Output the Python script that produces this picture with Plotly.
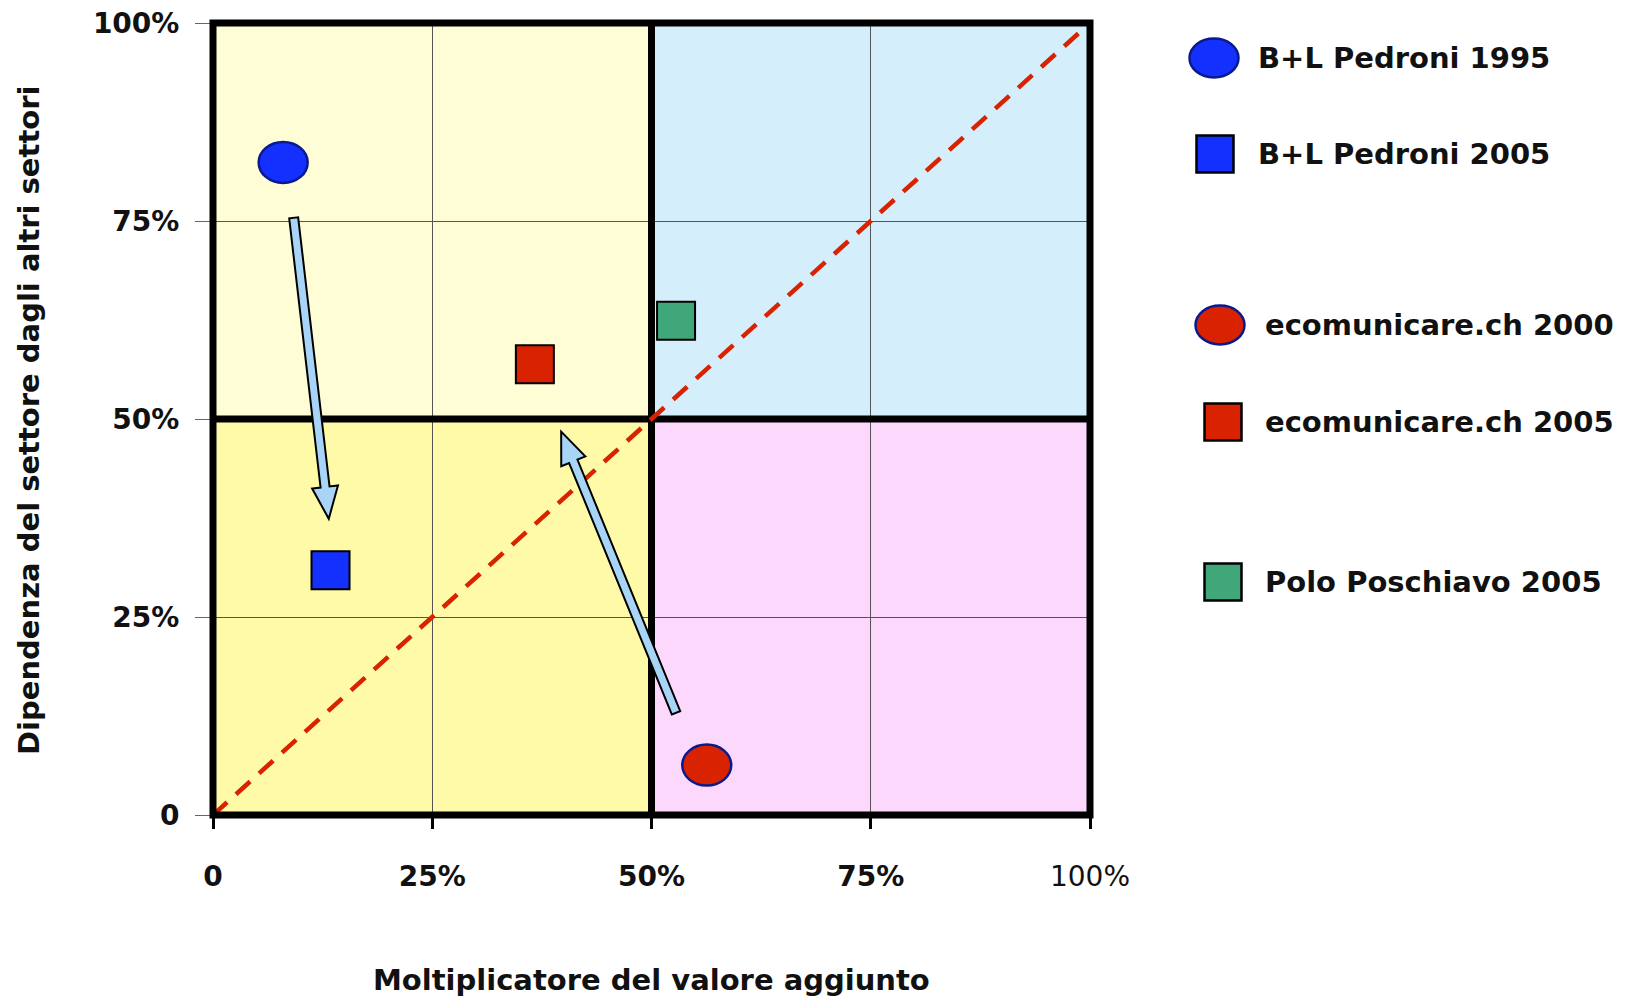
import math
import plotly.graph_objects as go

# ---------------- data ----------------
series_names = ["B+L Pedroni 1995", "B+L Pedroni 2005", "ecomunicare.ch 2000",
                "ecomunicare.ch 2005", "Polo Poschiavo 2005"]
x_values = [8.0, 13.4, 56.3, 36.7, 52.8]     # Moltiplicatore del valore aggiunto (%)
y_values = [82.4, 30.9, 6.3, 56.9, 62.4]      # Dipendenza del settore (%)
marker_kinds = ["ellipse", "square", "ellipse", "square", "square"]
fill_colors = ["#1430FF", "#1430FF", "#D82200", "#D82200", "#3FA77A"]

tick_vals = [0, 25, 50, 75, 100]
y_tick_text = ["0", "25%", "50%", "75%", "100%"]
x_tick_text = ["0", "25%", "50%", "75%", "100%"]

# movement arrows (from -> to), in data units
arrow_from_x = [9.2, 52.8]
arrow_from_y = [75.4, 12.9]
arrow_to_x = [13.2, 39.7]
arrow_to_y = [37.4, 48.4]

# ---------------- layout geometry ----------------
W, H = 1631, 998
L, R, T, B = 213, 1631 - 1090, 23, 998 - 815
PW, PH = W - L - R, H - T - B
SX, SY = PW / 100.0, PH / 100.0
FONT = "DejaVu Sans, Verdana, sans-serif"

fig = go.Figure()

shapes = []
# quadrant backgrounds
quads = [(0, 50, 50, 100, "#FFFDD6"), (0, 50, 0, 50, "#FFFAA8"),
         (50, 100, 50, 100, "#D5EEFC"), (50, 100, 0, 50, "#FCD8FC")]
for x0, x1, y0, y1, c in quads:
    shapes.append(dict(type="rect", xref="x", yref="y", x0=x0, x1=x1, y0=y0, y1=y1,
                       fillcolor=c, line=dict(width=0), layer="below"))
# thick cross
shapes.append(dict(type="line", xref="x", yref="y", x0=50, x1=50, y0=0, y1=100,
                   line=dict(color="black", width=7), layer="between"))
shapes.append(dict(type="line", xref="x", yref="y", x0=0, x1=100, y0=50, y1=50,
                   line=dict(color="black", width=7), layer="between"))
# thick frame (paper refs, top layer so it is not clipped)
shapes.append(dict(type="rect", xref="paper", yref="paper", x0=0, x1=1, y0=0, y1=1,
                   line=dict(color="black", width=7), layer="above"))


def block_arrow(x0, y0, x1, y1, w=4.5, h=13.0, hl=32.0):
    X0, Y0, X1, Y1 = x0 * SX, y0 * SY, x1 * SX, y1 * SY
    dx, dy = X1 - X0, Y1 - Y0
    ln = math.hypot(dx, dy)
    ux, uy = dx / ln, dy / ln
    nx, ny = -uy, ux
    nkx, nky = X1 - ux * hl, Y1 - uy * hl
    pts = [(X0 + nx * w, Y0 + ny * w), (nkx + nx * w, nky + ny * w),
           (nkx + nx * h, nky + ny * h), (X1, Y1),
           (nkx - nx * h, nky - ny * h), (nkx - nx * w, nky - ny * w),
           (X0 - nx * w, Y0 - ny * w)]
    return "M " + " L ".join(f"{px / SX:.4f},{py / SY:.4f}" for px, py in pts) + " Z"


for ax0, ay0, ax1, ay1 in zip(arrow_from_x, arrow_from_y, arrow_to_x, arrow_to_y):
    shapes.append(dict(type="path", xref="x", yref="y", path=block_arrow(ax0, ay0, ax1, ay1),
                       fillcolor="#A8D4F8", line=dict(color="black", width=2), layer="above"))

# diagonal reference line
fig.add_trace(go.Scatter(x=[0, 100], y=[0, 100], mode="lines", showlegend=False,
                         hoverinfo="skip",
                         line=dict(color="#D82200", width=4.5, dash="19px,12px")))

# data points: squares as markers, ellipses as pixel-sized shapes anchored at the data
for name, xv, yv, kind, col in zip(series_names, x_values, y_values, marker_kinds, fill_colors):
    if kind == "square":
        fig.add_trace(go.Scatter(x=[xv], y=[yv], mode="markers", name=name, showlegend=False,
                                 marker=dict(symbol="square", size=38, color=col,
                                             line=dict(color="black", width=2))))
    else:
        fig.add_trace(go.Scatter(x=[xv], y=[yv], mode="markers", name=name, showlegend=False,
                                 marker=dict(size=40, color="rgba(0,0,0,0)")))
        shapes.append(dict(type="circle", xref="x", yref="y", xsizemode="pixel",
                           ysizemode="pixel", xanchor=xv, yanchor=yv,
                           x0=-24.5, x1=24.5, y0=-20.5, y1=20.5,
                           fillcolor=col, line=dict(color="#0A1A8C", width=2.5),
                           layer="above"))

# custom legend (paper coordinates)
legend_px = [(1214, 58), (1215, 154), (1220, 325), (1223, 422), (1223, 582)]
legend_text_x = [1256, 1256, 1263, 1263, 1263]
annotations = []
for (px, py), tx, name, kind, col in zip(legend_px, legend_text_x, series_names,
                                         marker_kinds, fill_colors):
    pxp = (px - L) / PW
    pyp = (T + PH - py) / PH
    if kind == "ellipse":
        shapes.append(dict(type="circle", xref="paper", yref="paper", xsizemode="pixel",
                           ysizemode="pixel", xanchor=pxp, yanchor=pyp,
                           x0=-24.5, x1=24.5, y0=-19.5, y1=19.5,
                           fillcolor=col, line=dict(color="#0A1A8C", width=2.5)))
    else:
        shapes.append(dict(type="rect", xref="paper", yref="paper", xsizemode="pixel",
                           ysizemode="pixel", xanchor=pxp, yanchor=pyp,
                           x0=-18.5, x1=18.5, y0=-18.5, y1=18.5,
                           fillcolor=col, line=dict(color="black", width=2.5)))
    annotations.append(dict(xref="paper", yref="paper", x=(tx - L) / PW, y=pyp,
                            xanchor="left", yanchor="middle", showarrow=False,
                            text=f"<b>{name}</b>",
                            font=dict(family=FONT, size=29, color="#111111")))

# axis titles
annotations.append(dict(xref="paper", yref="paper", x=0.5, y=(T + PH - 980) / PH,
                        xanchor="center", yanchor="middle", showarrow=False,
                        text="<b>Moltiplicatore del valore aggiunto</b>",
                        font=dict(family=FONT, size=29, color="#111111")))
annotations.append(dict(xref="paper", yref="paper", x=(29 - L) / PW, y=(T + PH - 421) / PH,
                        xanchor="center", yanchor="middle", showarrow=False, textangle=-90,
                        text="<b>Dipendenza del settore dagli altri settori</b>",
                        font=dict(family=FONT, size=29, color="#111111")))

x_ticktext = [f"<b>{t}</b>" for t in x_tick_text[:-1]] + [x_tick_text[-1]]
y_ticktext = [f"<b>{t}</b>" for t in y_tick_text]

fig.update_layout(
    width=W, height=H,
    margin=dict(l=L, r=R, t=T, b=B, autoexpand=False),
    paper_bgcolor="white", plot_bgcolor="white",
    showlegend=False,
    shapes=shapes, annotations=annotations,
    font=dict(family=FONT, color="#111111"),
    xaxis=dict(range=[0, 100], tickvals=tick_vals, ticktext=x_ticktext,
               showgrid=True, gridcolor="#555555", gridwidth=1, zeroline=False,
               showline=False, ticks="outside", ticklen=13, tickwidth=3, tickcolor="black",
               ticklabelstandoff=23, tickfont=dict(family=FONT, size=28, color="#111111"),
               fixedrange=True),
    yaxis=dict(range=[0, 100], tickvals=tick_vals, ticktext=y_ticktext,
               showgrid=True, gridcolor="#555555", gridwidth=1, zeroline=False,
               showline=False, ticks="outside", ticklen=17, tickwidth=1, tickcolor="#666666",
               ticklabelstandoff=10, tickfont=dict(family=FONT, size=28, color="#111111"),
               fixedrange=True),
)

fig.write_html("out.html")
